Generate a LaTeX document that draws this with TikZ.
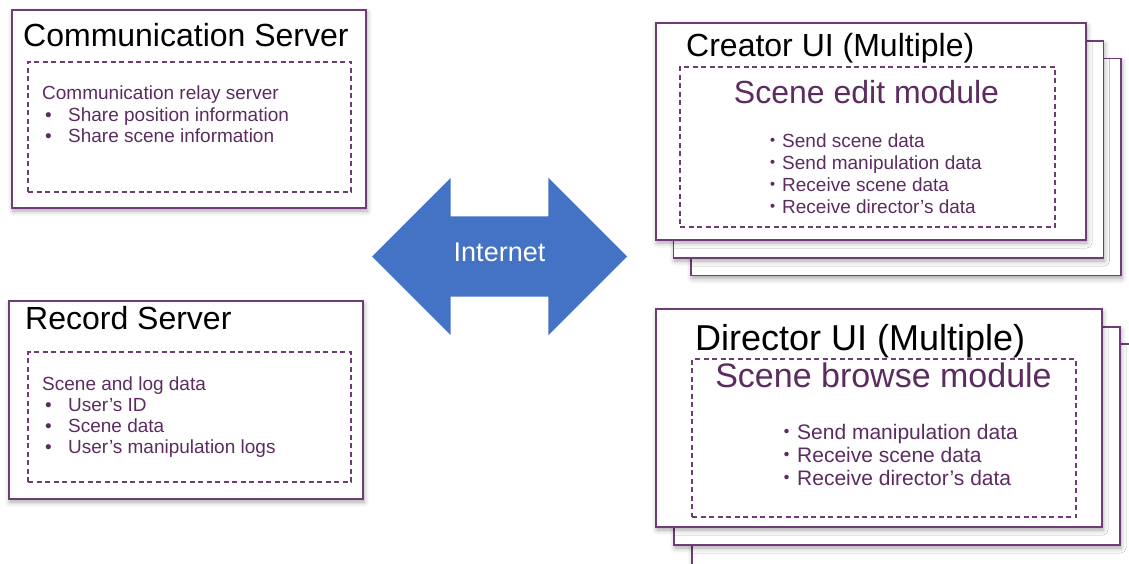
\documentclass[tikz,border=0pt]{standalone}
\usepackage{fontspec}
\setmainfont{Liberation Sans}
\newfontfamily\jpfont{Noto Sans CJK JP}
\usetikzlibrary{shapes.arrows,shadows.blur}
\definecolor{framecol}{HTML}{6F3D75}
\definecolor{textcol}{HTML}{5C2C61}
\definecolor{netblue}{HTML}{4472C4}
\newcommand{\midot}{{\jpfont ・}}
\newcommand{\bul}{\hspace*{3pt}\makebox[23pt][l]{•}}

\begin{document}
\begin{tikzpicture}[x=1pt, y=-1pt,
    panel/.style={draw=framecol, line width=1.4pt, fill=white, inner sep=0pt,
      blur shadow={shadow xshift=1pt, shadow yshift=-3pt, shadow blur radius=5pt, shadow opacity=35}},
    module/.style={draw=framecol, line width=1.1pt, dash pattern=on 5pt off 3.5pt, inner sep=0pt},
    title/.style={anchor=base west, inner sep=0pt, font=\fontsize{32}{36}\selectfont},
    heading/.style={anchor=base, inner sep=0pt, text=textcol},
    items/.style={anchor=base west, align=left, inner sep=0pt, text=textcol}]

    \clip (0,0) rectangle (1129,564);

    % servers (item nodes sit on the baseline of their last line)
    \node[panel, minimum width=354pt, minimum height=198pt] (cs) at (189,109) {};
    \node[module, minimum width=323pt, minimum height=130pt] (csm) at (189.5,127) {};
    \node[title] (cst) at (23,47) {Communication Server};
    \node[items, font=\fontsize{19}{21.5}\selectfont] (csl) at (42,143)
      {Communication relay server\\\bul Share position information\\\bul Share scene information};

    \node[panel, minimum width=354pt, minimum height=198pt] (rs) at (186,400) {};
    \node[module, minimum width=323pt, minimum height=130pt] (rsm) at (189.5,417) {};
    \node[title] (rst) at (25,329) {Record Server};
    \node[items, font=\fontsize{19}{21}\selectfont] (rsl) at (42,453)
      {Scene and log data\\\bul User’s ID\\\bul Scene data\\\bul User’s manipulation logs};

    % creator UI stack
    \node[panel, minimum width=430pt, minimum height=217pt] (cu3) at (906,167) {};
    \node[panel, minimum width=430pt, minimum height=217pt] (cu2) at (888.5,149.5) {};
    \node[panel, minimum width=430pt, minimum height=217pt] (cu) at (871,131.5) {};
    \node[module, minimum width=375pt, minimum height=160pt] (cum) at (867.5,147) {};
    \node[title] (cut) at (686,57) {Creator UI (Multiple)};
    \node[heading, font=\fontsize{32}{36}\selectfont] (cuh) at (866.5,104) {Scene edit module};
    \node[items, font=\fontsize{19}{21.7}\selectfont] (cul) at (763,213)
      {\midot Send scene data\\\midot Send manipulation data\\\midot Receive scene data\\\midot Receive director’s data};

    % director UI stack
    \node[panel, minimum width=470pt, minimum height=240pt] (du3) at (927,464) {};
    \node[panel, minimum width=446pt, minimum height=218pt] (du2) at (897,436) {};
    \node[panel, minimum width=446pt, minimum height=218pt] (du) at (879,418) {};
    \node[module, minimum width=384pt, minimum height=158pt] (dum) at (884,438) {};
    \node[title, font=\fontsize{36}{40}\selectfont] (dut) at (695,350) {Director UI (Multiple)};
    \node[heading, font=\fontsize{34}{38}\selectfont] (duh) at (883.5,387) {Scene browse module};
    \node[items, font=\fontsize{21}{23}\selectfont] (dul) at (776,485)
      {\midot Send manipulation data\\\midot Receive scene data\\\midot Receive director’s data};

    % internet
    \node[double arrow, fill=netblue, text=white, minimum height=255pt,
      double arrow head extend=38.5pt, inner xsep=0pt, inner ysep=35pt,
      text height=10pt, text depth=0pt, font=\fontsize{27}{30}\selectfont] (net) at (499.5,256.5) {Internet};

\end{tikzpicture}
\end{document}
